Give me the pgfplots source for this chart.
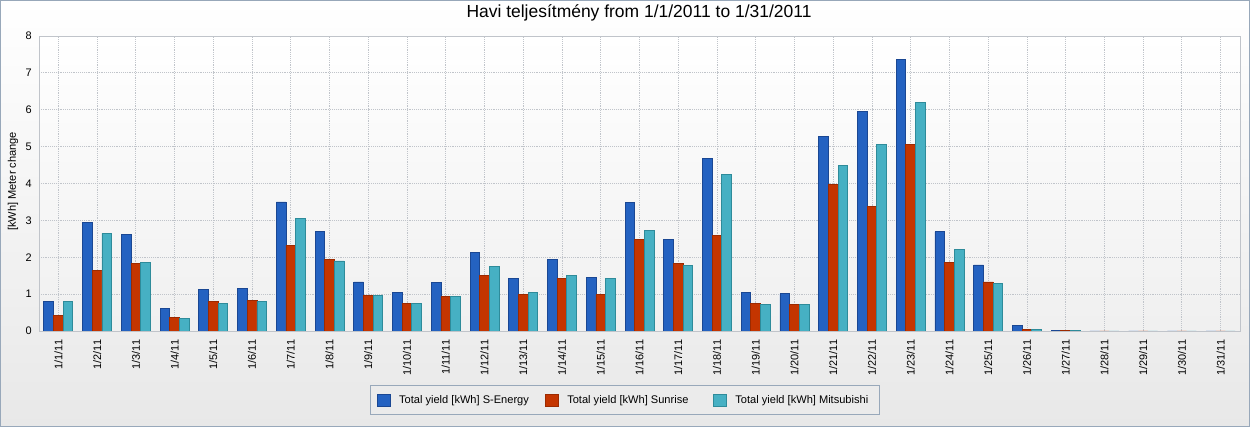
\documentclass[border=0pt]{standalone}
\usepackage{pgfplots}
\usepackage{pgfplotstable}
\pgfplotsset{compat=1.18}
\usepackage{fontspec}
\setmainfont{Liberation Sans}
\definecolor{sblue}{HTML}{2462C1}
\definecolor{sblued}{HTML}{1A4793}
\definecolor{sred}{HTML}{C43500}
\definecolor{sredd}{HTML}{9C2A00}
\definecolor{scyan}{HTML}{46B0C3}
\definecolor{scyand}{HTML}{2E8B9A}
\definecolor{frame}{HTML}{98A8BA}
\definecolor{gridc}{HTML}{C0C4CA}
\pgfplotstableread{
x a b c
0 0.80 0.42 0.80
1 2.95 1.65 2.65
2 2.62 1.83 1.85
3 0.60 0.36 0.33
4 1.12 0.80 0.74
5 1.15 0.82 0.80
6 3.50 2.32 3.05
7 2.70 1.93 1.90
8 1.33 0.96 0.96
9 1.04 0.74 0.74
10 1.31 0.93 0.93
11 2.12 1.50 1.74
12 1.42 0.98 1.04
13 1.93 1.42 1.50
14 1.45 0.98 1.42
15 3.48 2.48 2.72
16 2.48 1.82 1.77
17 4.67 2.58 4.24
18 1.04 0.74 0.71
19 1.01 0.71 0.71
20 5.27 3.97 4.48
21 5.95 3.37 5.05
22 7.36 5.05 6.19
23 2.69 1.87 2.20
24 1.79 1.33 1.30
25 0.16 0.05 0.03
26 0.01 0.01 0.01
27 0 0 0
28 0 0 0
29 0 0 0
30 0 0 0
}\data
\begin{document}
\begin{tikzpicture}
\useasboundingbox (0,0) rectangle (937.5pt,320.25pt);
\shade[top color=white, bottom color=black!9] (0,0) rectangle (937.5pt,320.25pt);
\draw[frame, line width=0.75pt] (0.375pt,0.375pt) rectangle (937.125pt,319.875pt);
\node[font=\fontsize{13.1}{15}\selectfont] at (479.25pt,310.5pt) {Havi teljesítmény from 1/1/2011 to 1/31/2011};
\begin{axis}[
  scale only axis,
  anchor=south west,
  at={(29.25pt,72pt)},
  width=900.75pt, height=221.25pt,
  xmin=-0.5, xmax=30.5,
  ymin=0, ymax=8,
  ytick={0,1,...,8},
  xtick=data,
  xticklabels={1/1/11,1/2/11,1/3/11,1/4/11,1/5/11,1/6/11,1/7/11,1/8/11,1/9/11,1/10/11,1/11/11,1/12/11,1/13/11,1/14/11,1/15/11,1/16/11,1/17/11,1/18/11,1/19/11,1/20/11,1/21/11,1/22/11,1/23/11,1/24/11,1/25/11,1/26/11,1/27/11,1/28/11,1/29/11,1/30/11,1/31/11},
  xticklabel style={rotate=90, anchor=east, font=\fontsize{8.2}{9}\selectfont},
  xticklabel shift=3pt,
  yticklabel style={font=\fontsize{8.2}{9}\selectfont},
  yticklabel shift=2pt,
  /pgf/number format/assume math mode=true,
  major tick length=0pt,
  grid=major,
  major grid style={gridc, densely dotted, line width=0.6pt},
  axis line style={gridc},
  axis background/.style={top color=white, bottom color=black!6},
  ylabel={[kWh] Meter change},
  ylabel style={font=\fontsize{8.3}{9}\selectfont, at={(axis description cs:-0.0216,0.507)}, anchor=center},
  ybar=0pt,
  bar width=7.25pt,
  legend columns=3,
  legend style={at={(axis description cs:0.4877,-0.2339)}, anchor=center, draw=frame, line width=0.75pt, fill=black!8, font=\fontsize{8.3}{9}\selectfont, inner xsep=5pt, inner ysep=5pt, /tikz/every even column/.append style={column sep=9pt}},
  legend image code/.code={\draw[#1] (0pt,-4.5pt) rectangle (9.75pt,4.5pt);},
]
\addplot[fill=sblue, draw=sblued, line width=0.6pt] table[x=x,y=a] {\data};
\addplot[fill=sred, draw=sredd, line width=0.6pt] table[x=x,y=b] {\data};
\addplot[fill=scyan, draw=scyand, line width=0.6pt] table[x=x,y=c] {\data};
\legend{\hspace*{4.5pt}\makebox[98.25pt][l]{Total yield [kWh] S-Energy}, \hspace*{4.5pt}\makebox[98.25pt][l]{Total yield [kWh] Sunrise}, \hspace*{4.5pt}\makebox[101pt][l]{Total yield [kWh] Mitsubishi}}
\end{axis}
\end{tikzpicture}
\end{document}
